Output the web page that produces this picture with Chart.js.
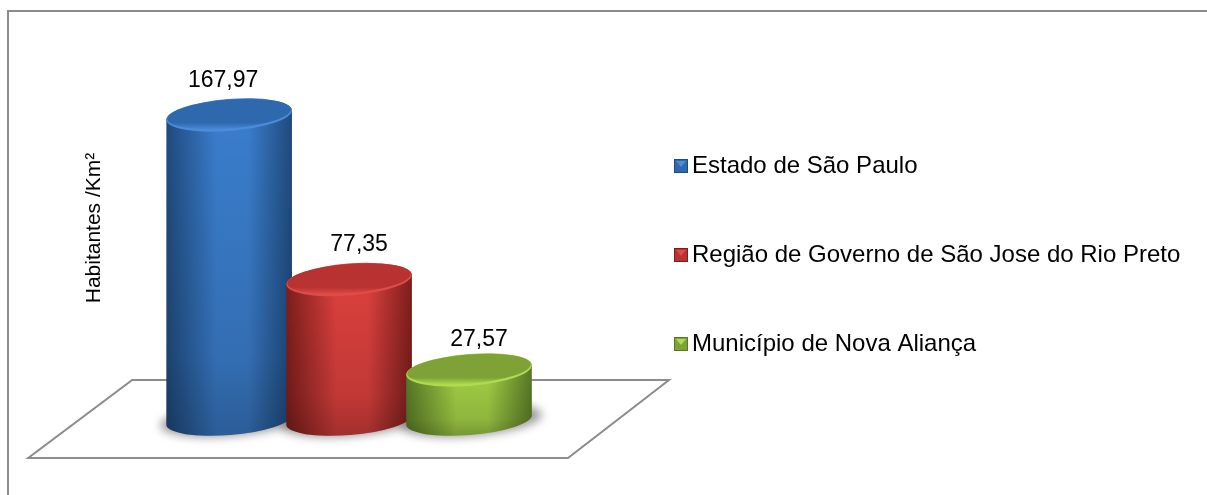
<!DOCTYPE html>
<html>
<head>
<meta charset="utf-8">
<title>Habitantes /Km²</title>
<style>
  html, body { margin: 0; padding: 0; background: #fff; overflow: hidden; }
</style>
<script src="https://cdn.jsdelivr.net/npm/chart.js@4/dist/chart.umd.js"></script>
</head>
<body>
<canvas id="chart" width="1207" height="495"></canvas>
<script>
// ── Data ──
const categories = ['Estado de São Paulo', 'Região de Governo de São Jose do Rio Preto', 'Município de Nova Aliança'];
const density = [167.97, 77.35, 27.57];
const valueLabels = ['167,97', '77,35', '27,57'];
const axisTitle = 'Habitantes /Km²';

// ── Cylinder colours: edge, middle, top face, rim ──
const shades = [
  { edge: '#1f4a7d', mid: '#3a7dcc', top: '#2e68ad', rim: '#4b8cd8' },
  { edge: '#7c1e1c', mid: '#db403d', top: '#b73230', rim: '#de4c48' },
  { edge: '#587826', mid: '#a2cf45', top: '#7ea236', rim: '#aedb50' }
];

const FONT = '"Liberation Sans", Arial, sans-serif';
const GREY = '#8c8c8c';
const TILT = 0.08;
const RY = 15;
const labelShift = [-6, 10, 10];
const labelLift = [34, 35, 30];

function cylinderPath(ctx, cx, top, base, rx) {
  ctx.beginPath();
  ctx.ellipse(cx, base, rx, RY, -TILT, 0, Math.PI);
  ctx.ellipse(cx, top, rx, RY, -TILT, Math.PI, Math.PI * 2);
  ctx.closePath();
}

function drawCylinder(ctx, bar, s) {
  const rx = bar.width / 2, cx = bar.x, top = bar.y, base = bar.base;

  // body, light in the middle and dark on both sides
  const side = ctx.createLinearGradient(cx - rx, 0, cx + rx, 0);
  side.addColorStop(0, s.edge);
  side.addColorStop(0.4, s.mid);
  side.addColorStop(0.65, s.mid);
  side.addColorStop(1, s.edge);
  cylinderPath(ctx, cx, top, base, rx);
  ctx.fillStyle = side;
  ctx.fill();

  const fade = ctx.createLinearGradient(0, top, 0, base + RY);
  fade.addColorStop(0, 'rgba(0,0,0,0)');
  fade.addColorStop(0.75, 'rgba(0,0,0,0.12)');
  fade.addColorStop(1, 'rgba(0,0,0,0.26)');
  ctx.fillStyle = fade;
  ctx.fill();

  // top face with its lit rim
  ctx.beginPath();
  ctx.ellipse(cx, top, rx, RY + 1, -TILT, 0, Math.PI * 2);
  ctx.fillStyle = s.rim;
  ctx.fill();
  const face = ctx.createLinearGradient(0, top - RY, 0, top + RY);
  face.addColorStop(0, s.top);
  face.addColorStop(0.75, s.top);
  face.addColorStop(1, s.rim);
  ctx.beginPath();
  ctx.ellipse(cx, top - 1, rx - 1, RY - 0.5, -TILT, 0, Math.PI * 2);
  ctx.fillStyle = face;
  ctx.fill();
}

// ── Legend swatches, bevelled squares pushed to the right of the image ──
function swatch(s) {
  const c = document.createElement('canvas');
  c.width = 34; c.height = 14;
  const g = c.getContext('2d');
  const x = 18, w = 14, h = 14;
  g.fillStyle = s.edge;
  g.fillRect(x, 0, w, h);
  g.fillStyle = s.top;
  g.fillRect(x + 1, 1, w - 2, h - 2);
  g.fillStyle = s.rim;
  g.beginPath();
  g.moveTo(x + 2, 2);
  g.lineTo(x + w - 2, 2);
  g.lineTo(x + w / 2, h / 2 + 1);
  g.closePath();
  g.fill();
  return c;
}
const swatches = shades.map(swatch);

// ── Floor, frame, cylinders and value labels ──
const sceneryPlugin = {
  id: 'scenery',
  afterLayout(chart) {
    // the legend sits apart from the plot and may run to the canvas edge
    chart.legend.left = chart.chartArea.right + 72;
    chart.legend.right = chart.width;
    chart.legend.top += 1;
    chart.legend.bottom += 1;
  },
  beforeDraw(chart) {
    const ctx = chart.ctx;
    const { left, right } = chart.chartArea;
    const y0 = chart.scales.y.getPixelForValue(0);
    ctx.save();
    ctx.strokeStyle = GREY;
    ctx.lineWidth = 2;
    ctx.beginPath();
    ctx.moveTo(8, chart.height);
    ctx.lineTo(8, 11);
    ctx.lineTo(chart.width, 11);
    ctx.stroke();

    ctx.beginPath();
    ctx.moveTo(left - 37, y0 - 40);
    ctx.lineTo(right + 140, y0 - 40);
    ctx.lineTo(right + 39, y0 + 38);
    ctx.lineTo(left - 141, y0 + 38);
    ctx.closePath();
    ctx.stroke();

    // soft shadow under the three cylinders
    const bars = chart.getDatasetMeta(0).data;
    ctx.filter = 'blur(5px)';
    ctx.fillStyle = 'rgba(70,70,70,0.55)';
    bars.forEach(b => {
      ctx.beginPath();
      ctx.ellipse(b.x + 2, y0, b.width / 2 + 8, RY + 1, -TILT, 0, Math.PI * 2);
      ctx.fill();
    });
    ctx.restore();
  },
  beforeDatasetDraw(chart, args) {
    const ctx = chart.ctx;
    ctx.save();
    args.meta.data.forEach((bar, i) => drawCylinder(ctx, bar, shades[i]));
    ctx.restore();
    return false;
  },
  afterDatasetsDraw(chart) {
    const ctx = chart.ctx;
    ctx.save();
    ctx.font = '23px ' + FONT;
    ctx.fillStyle = '#000';
    ctx.textAlign = 'center';
    ctx.textBaseline = 'middle';
    chart.getDatasetMeta(0).data.forEach((bar, i) => {
      ctx.fillText(valueLabels[i], bar.x + labelShift[i], bar.y - labelLift[i]);
    });
    ctx.restore();
  }
};

new Chart(document.getElementById('chart'), {
  type: 'bar',
  data: {
    labels: categories,
    datasets: [{
      label: axisTitle,
      data: density,
      backgroundColor: shades.map(s => s.mid),
      barThickness: 126
    }]
  },
  options: {
    responsive: false,
    animation: false,
    layout: { padding: { left: 82, top: 36, bottom: 75, right: 529 } },
    scales: {
      x: { display: false },
      y: {
        min: 0, max: 211.5,
        grid: { display: false },
        border: { display: false },
        ticks: { display: false },
        title: {
          display: true,
          text: axisTitle,
          color: '#000',
          font: { family: FONT, size: 21 },
          padding: { top: 0, bottom: 54 }
        }
      }
    },
    plugins: {
      tooltip: { enabled: false },
      legend: {
        position: 'right',
        align: 'end',
        labels: {
          color: '#000',
          font: { family: FONT, size: 24 },
          padding: 65,
          boxWidth: 14,
          boxHeight: 14,
          usePointStyle: true,
          generateLabels: () => categories.map((name, i) => ({
            text: name,
            pointStyle: swatches[i],
            fillStyle: shades[i].mid,
            strokeStyle: shades[i].mid,
            lineWidth: 0,
            fontColor: '#000',
            index: i
          }))
        }
      }
    }
  },
  plugins: [sceneryPlugin]
});
</script>
</body>
</html>
